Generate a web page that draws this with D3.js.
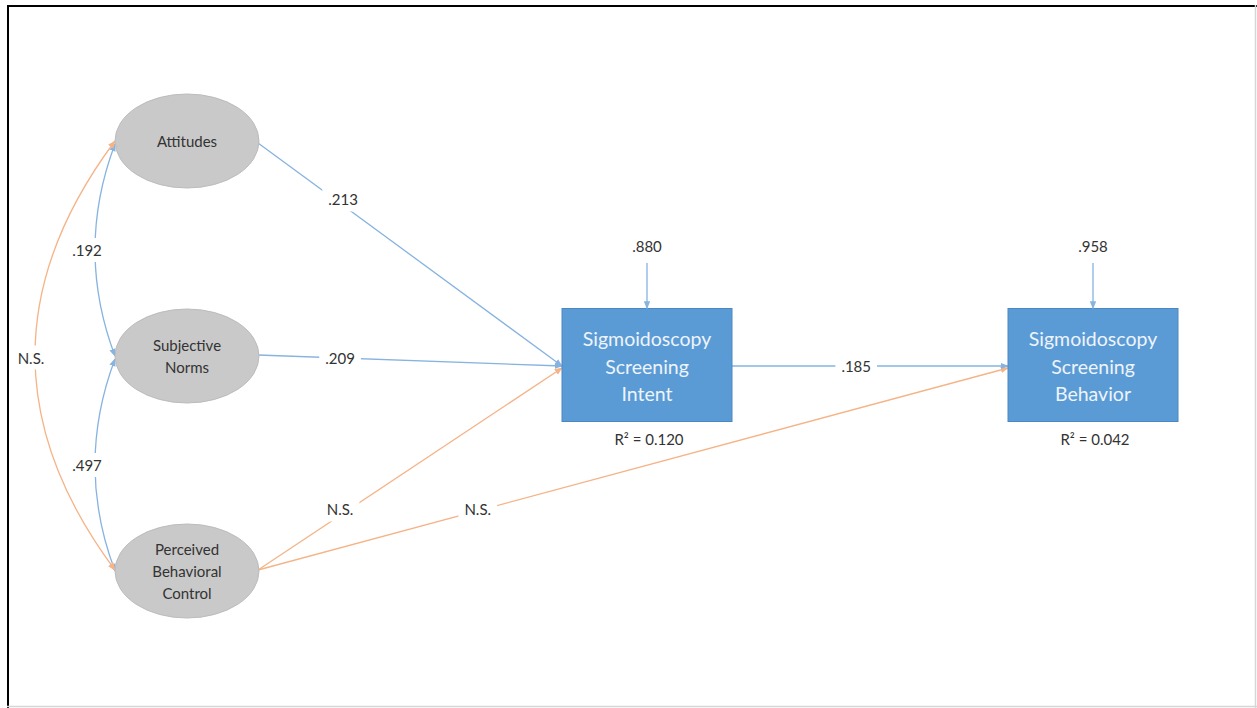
<!DOCTYPE html>
<html><head><meta charset="utf-8">
<script src="https://cdn.jsdelivr.net/npm/d3@7/dist/d3.min.js"></script>
<style>
html,body{margin:0;padding:0;background:#fff;}
svg{display:block;}
text{font-family:Lato,"Open Sans",sans-serif;}
</style></head>
<body>
<svg id="c" width="1257" height="708"></svg>
<script>
// ---------------- data ----------------
const latentNodes = ["Attitudes", "Subjective Norms", "Perceived Behavioral Control"];
const latentLines = [["Attitudes"], ["Subjective", "Norms"], ["Perceived", "Behavioral", "Control"]];
const outcomeNodes = ["Intent", "Behavior"];
const outcomeLines = [["Sigmoidoscopy", "Screening", "Intent"], ["Sigmoidoscopy", "Screening", "Behavior"]];
const residuals = [".880", ".958"];
const rSquared = ["R\u00B2 = 0.120", "R\u00B2 = 0.042"];
// directed paths: from, to, coefficient label, significant?
const pathFrom = ["Attitudes", "Subjective Norms", "Perceived Behavioral Control", "Perceived Behavioral Control", "Intent"];
const pathTo   = ["Intent", "Intent", "Intent", "Behavior", "Behavior"];
const pathLabel = [".213", ".209", "N.S.", "N.S.", ".185"];
const pathSig   = [true, true, false, false, true];
// covariances among exogenous constructs
const covA = ["Attitudes", "Subjective Norms", "Attitudes"];
const covB = ["Subjective Norms", "Perceived Behavioral Control", "Perceived Behavioral Control"];
const covLabel = [".192", ".497", "N.S."];
const covSig = [true, true, false];

// ---------------- layout ----------------
const W = 1257, H = 708;
const svg = d3.select("#c");
const BLUE = "#86b3e0", ORANGE = "#f5b487";
const col = d3.scaleOrdinal().domain(["latent", "Intent", "Behavior"]).range([187, 647, 1093]);
const row = d3.scalePoint().domain(latentNodes).range([141, 571]);
const outY = 366;             // vertical centre of outcome boxes
const RX = 72, RY = 47;       // ellipse radii
const BW = 170, BH = 113;     // box size
const labelT = [0.28, 0.27, 0.27, 0.293, 0.45];
const labelDy = [-6, 0, -6, -2, 0];
const covBulge = [75, 75, -45];

// frame
svg.append("line").attr("x1", 8).attr("y1", 5).attr("x2", 8).attr("y2", H).attr("stroke", "#000").attr("stroke-width", 2);
svg.append("line").attr("x1", 7).attr("y1", 6).attr("x2", W).attr("y2", 6).attr("stroke", "#000").attr("stroke-width", 2);
svg.append("line").attr("x1", 1255.5).attr("y1", 5).attr("x2", 1255.5).attr("y2", H).attr("stroke", "#d6d6d6").attr("stroke-width", 1.5);
svg.append("line").attr("x1", 7).attr("y1", 706.5).attr("x2", W).attr("y2", 706.5).attr("stroke", "#d6d6d6").attr("stroke-width", 1.5);

// markers
const defs = svg.append("defs");
[["b", BLUE], ["o", ORANGE]].forEach(([id, c]) => {
  defs.append("marker").attr("id", "arr-" + id)
    .attr("viewBox", "0 0 10 10").attr("refX", 9).attr("refY", 5)
    .attr("markerWidth", 8).attr("markerHeight", 8).attr("markerUnits", "userSpaceOnUse")
    .attr("orient", "auto-start-reverse")
    .append("path").attr("d", "M0,1 L10,5 L0,9 Z").attr("fill", c);
});

function nodePos(name) {
  if (latentNodes.includes(name)) return {x: col("latent"), y: row(name), kind: "latent"};
  return {x: col(name), y: outY, kind: "box"};
}

const gLines = svg.append("g");
const gLabels = svg.append("g");

function addLabel(x, y, txt, size) {
  const g = gLabels.append("g");
  const t = g.append("text").attr("x", x).attr("y", y).attr("text-anchor", "middle")
    .attr("dominant-baseline", "central").attr("font-size", size).attr("fill", "#333").text(txt);
  const bb = t.node().getBBox();
  g.insert("rect", "text").attr("x", bb.x - 6).attr("y", bb.y - 3).attr("width", bb.width + 12)
    .attr("height", bb.height + 6).attr("fill", "#fff");
}

// covariance curves
covA.forEach((a, i) => {
  const pa = nodePos(a), pb = nodePos(covB[i]);
  const x0 = pa.x - RX, y0 = pa.y + (covSig[i] ? 3 : 0);
  const x1 = pb.x - RX, y1 = pb.y + (covSig[i] ? 0 : -1);
  const cx = covBulge[i], cy = (y0 + y1) / 2;
  const c = covSig[i] ? BLUE : ORANGE;
  gLines.append("path").attr("d", `M${x0},${y0} Q${cx},${cy} ${x1},${y1}`)
    .attr("fill", "none").attr("stroke", c).attr("stroke-width", 1.3)
    .attr("marker-start", `url(#arr-${covSig[i] ? "b" : "o"})`)
    .attr("marker-end", `url(#arr-${covSig[i] ? "b" : "o"})`);
  const mx = 0.25 * x0 + 0.5 * cx + 0.25 * x1;
  addLabel(mx - (covSig[i] ? 8 : 4), cy + (covSig[i] ? 0 : 2), covLabel[i], 15);
});

// directed paths
pathFrom.forEach((f, i) => {
  const pf = nodePos(f), pt = nodePos(pathTo[i]);
  const x0 = pf.kind === "latent" ? pf.x + RX - 1 : pf.x + BW / 2;
  const y0 = pf.kind === "latent" ? pf.y + (i === 0 ? 2 : -1) : pf.y;
  const x1 = pt.x - BW / 2, y1 = pt.y + (pathSig[i] ? 0 : 2);
  const c = pathSig[i] ? BLUE : ORANGE;
  gLines.append("line").attr("x1", x0).attr("y1", y0).attr("x2", x1).attr("y2", y1)
    .attr("stroke", c).attr("stroke-width", 1.3)
    .attr("marker-end", `url(#arr-${pathSig[i] ? "b" : "o"})`);
  const t = labelT[i];
  addLabel(x0 + (x1 - x0) * t, y0 + (y1 - y0) * t + labelDy[i], pathLabel[i], 15);
});

// ellipses
latentNodes.forEach((n, i) => {
  const p = nodePos(n);
  svg.append("ellipse").attr("cx", p.x).attr("cy", p.y).attr("rx", RX).attr("ry", RY)
    .attr("fill", "#c9c9c9").attr("stroke", "#bcbcbc").attr("stroke-width", 1);
  const lines = latentLines[i];
  const lh = 22;
  lines.forEach((l, j) => {
    svg.append("text").attr("x", p.x).attr("y", p.y + (j - (lines.length - 1) / 2) * lh)
      .attr("text-anchor", "middle").attr("dominant-baseline", "central")
      .attr("font-size", 15).attr("fill", "#333").text(l);
  });
});

// outcome boxes
outcomeNodes.forEach((n, i) => {
  const p = nodePos(n);
  svg.append("rect").attr("x", p.x - BW / 2).attr("y", p.y - BH / 2 - 1).attr("width", BW).attr("height", BH)
    .attr("fill", "#5b9bd5").attr("stroke", "#4a88c4").attr("stroke-width", 1);
  outcomeLines[i].forEach((l, j) => {
    svg.append("text").attr("x", p.x).attr("y", p.y + (j - 1) * 27.5)
      .attr("text-anchor", "middle").attr("dominant-baseline", "central")
      .attr("font-size", 19.5).attr("fill", "#eef4fb").text(l);
  });
  // residual arrow
  svg.append("line").attr("x1", p.x).attr("y1", 263).attr("x2", p.x).attr("y2", p.y - BH / 2 - 1)
    .attr("stroke", BLUE).attr("stroke-width", 1.3).attr("marker-end", "url(#arr-b)");
  svg.append("text").attr("x", p.x).attr("y", 246).attr("text-anchor", "middle")
    .attr("dominant-baseline", "central").attr("font-size", 15).attr("fill", "#333").text(residuals[i]);
  svg.append("text").attr("x", p.x + 2).attr("y", 439).attr("text-anchor", "middle")
    .attr("dominant-baseline", "central").attr("font-size", 15).attr("fill", "#333").text(rSquared[i]);
});
</script>
</body></html>
